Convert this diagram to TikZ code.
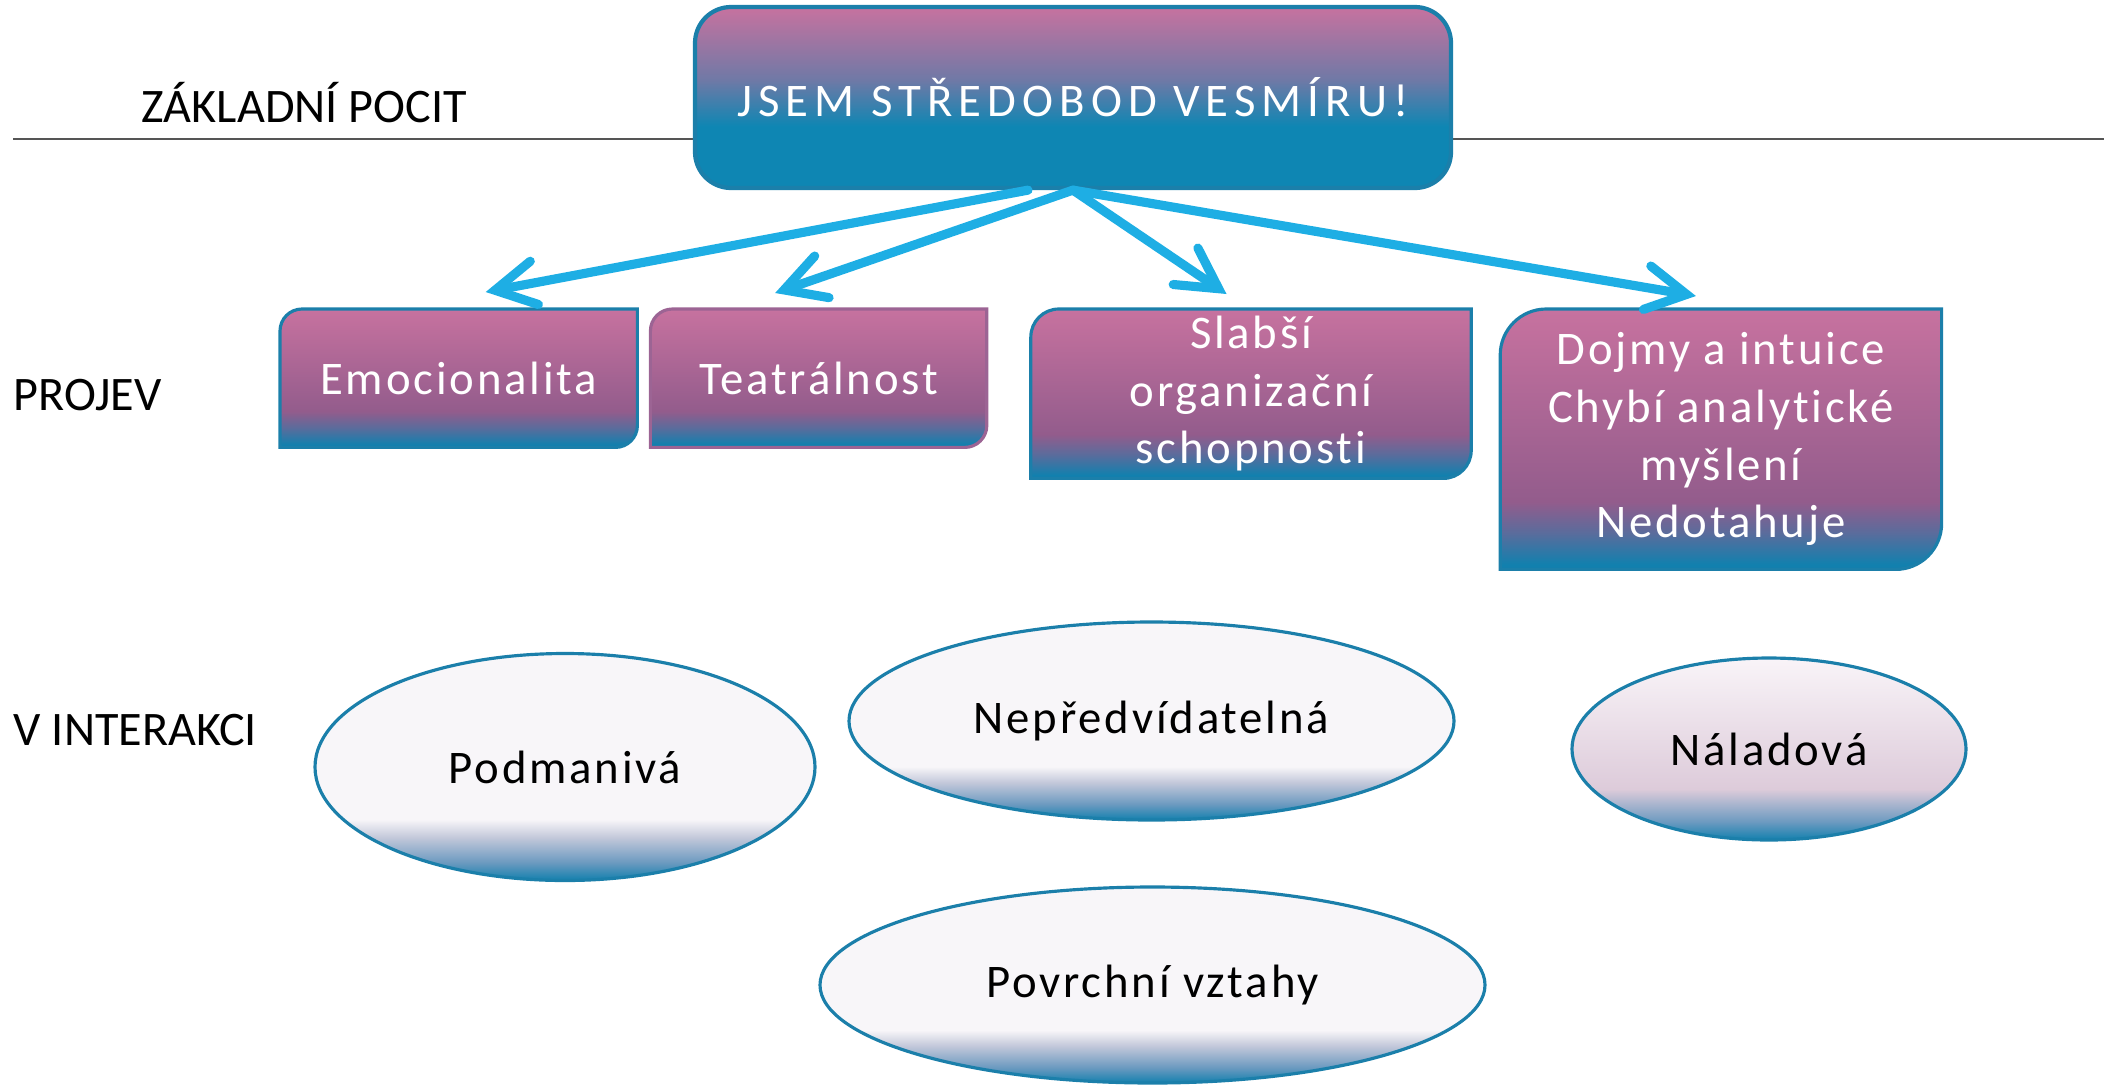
\documentclass[tikz,border=0pt]{standalone}
\usepackage{fontspec}
\setmainfont{Carlito}
\newfontfamily\spaced[LetterSpace=6,Ligatures=NoCommon]{Carlito}
\newfontfamily\widespaced[LetterSpace=13,Ligatures=NoCommon]{Carlito}
\usetikzlibrary{positioning,arrows.meta,shapes.geometric,backgrounds}

\definecolor{pinkc}{HTML}{C7729F}
\definecolor{purpc}{HTML}{935C8C}
\definecolor{mixc}{HTML}{5A6C9C}
\definecolor{tealc}{HTML}{1280AE}
\definecolor{midc}{HTML}{7079A6}
\definecolor{coreteal}{HTML}{0E86B3}
\definecolor{edgec}{HTML}{1B7FAA}
\definecolor{purpedge}{HTML}{9C6494}
\definecolor{arrowc}{HTML}{1EAEE4}
\definecolor{ellw}{HTML}{F8F6F9}
\definecolor{ellmid}{HTML}{C3C8DA}
\definecolor{ellblue}{HTML}{6C9AC0}
\definecolor{moodtop}{HTML}{F9F4F8}
\definecolor{moodmid}{HTML}{DDCBDA}
\definecolor{linec}{HTML}{555555}

\pgfdeclareverticalshading{coreshade}{100bp}{color(0bp)=(coreteal); color(42bp)=(coreteal); color(55bp)=(midc); color(75bp)=(pinkc); color(100bp)=(pinkc)}
\pgfdeclareverticalshading{leafshade}{100bp}{color(0bp)=(tealc); color(26bp)=(tealc); color(32bp)=(mixc); color(38bp)=(purpc); color(75bp)=(pinkc); color(100bp)=(pinkc)}
\pgfdeclareverticalshading{bubbleshade}{100bp}{color(0bp)=(tealc); color(25bp)=(tealc); color(29bp)=(ellblue); color(34.5bp)=(ellmid); color(38.5bp)=(ellw); color(100bp)=(ellw)}
\pgfdeclareverticalshading{moodshade}{100bp}{color(0bp)=(tealc); color(25bp)=(tealc); color(30bp)=(ellblue); color(39bp)=(moodmid); color(75bp)=(moodtop); color(100bp)=(moodtop)}

\begin{document}
\begin{tikzpicture}[
    lbl/.style={anchor=base west, inner sep=0pt, font=\fontsize{13.7}{16}\selectfont},
    core/.style={draw=edgec, line width=1.2pt, rounded corners=0.36cm, shade, shading=coreshade,
        minimum width=7.56cm, minimum height=1.81cm, inner sep=0pt, text=white,
        font=\widespaced\fontsize{13.3}{16}\selectfont},
    leaf/.style={inner sep=0pt, align=center, text=white, font=\spaced\fontsize{13.3}{16.4}\selectfont},
    bubble/.style={ellipse, draw=edgec, line width=0.9pt, shade, shading=bubbleshade, inner sep=0pt,
        font=\spaced\fontsize{13.3}{16}\selectfont},
    link/.style={draw=arrowc, line width=2.6pt, line cap=round,
        -{Straight Barb[length=4mm, width=4.4mm, line cap=round]}},
]
\useasboundingbox (0,0) rectangle (21.07,-10.85);

\draw[linec, line width=0.6pt] (0.13,-1.39) -- (21.04,-1.39);
\node[core] (core) at (10.73,-0.975) {JSEM STŘEDOBOD VESMÍRU!};

% row labels
\node[lbl] (basic) at (1.41,-1.22) {ZÁKLADNÍ POCIT};
\node[lbl] (show) at (0.13,-4.10) {PROJEV};
\node[lbl] (inter) at (0.13,-7.45) {V INTERAKCI};

% projev
\node[leaf, minimum width=3.56cm, minimum height=1.37cm, anchor=north west] (emo) at (2.80,-3.09) {Emocionalita};
\node[leaf, minimum width=3.35cm, minimum height=1.37cm, below right=0cm and 0.13cm of emo.north east] (tea) {Teatrálnost};
\node[leaf, minimum width=4.39cm, minimum height=1.68cm, below right=0cm and 0.44cm of tea.north east] (sla) {Slabší\\organizační\\schopnosti};
\node[leaf, minimum width=4.40cm, minimum height=2.59cm, below right=0cm and 0.29cm of sla.north east] (doj) {Dojmy a intuice\\Chybí analytické\\myšlení\\Nedotahuje};

\begin{scope}[on background layer]
\foreach \n/\c/\rad in {emo/edgec/0.22, tea/purpedge/0.22, sla/edgec/0.28, doj/edgec/0.46}
    \draw[draw=\c, line width=0.9pt, shade, shading=leafshade]
        (\n.south west) -- ([yshift=-\rad cm]\n.north west) arc[start angle=180, end angle=90, radius=\rad]
        -- (\n.north east) -- ([yshift=\rad cm]\n.south east) arc[start angle=0, end angle=-90, radius=\rad] -- cycle;
\end{scope}

\draw[link] ([xshift=-0.45cm]core.south) -- ([xshift=0.27cm,yshift=0.17cm]emo.north);
\draw[link] (core.south) -- ([xshift=-0.435cm,yshift=0.16cm]tea.north);
\draw[link] (core.south) -- ([xshift=-0.245cm,yshift=0.15cm]sla.north);
\draw[link] (core.south) -- ([xshift=-0.25cm,yshift=0.13cm]doj.north);

% v interakci
\node[bubble, minimum width=5.0cm, minimum height=2.27cm] (podm) at (5.65,-7.67) {Podmanivá};
\node[bubble, minimum width=6.05cm, minimum height=1.98cm] (nepr) at (11.515,-7.21) {Nepředvídatelná};
\node[bubble, shading=moodshade, minimum width=3.94cm, minimum height=1.82cm] (nala) at (17.69,-7.49) {Náladová};
\node[bubble, minimum width=6.65cm, minimum height=1.96cm] (povr) at (11.525,-9.85) {Povrchní vztahy};
\end{tikzpicture}
\end{document}
